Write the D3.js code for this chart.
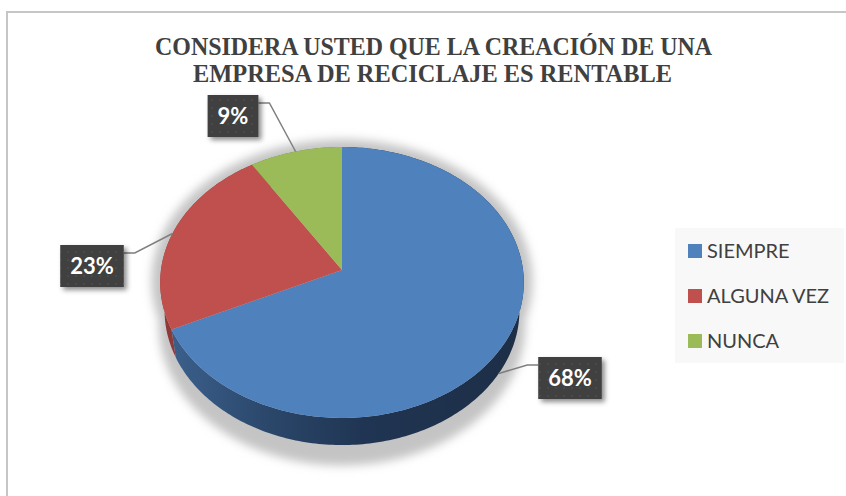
<!DOCTYPE html>
<html lang="es">
<head>
<meta charset="UTF-8">
<title>Creación de una empresa de reciclaje</title>
<style>
    body { margin: 0; background: #fff; }
    svg { display: block; }
    .title { font-family: "Liberation Serif", "Times New Roman", serif; font-weight: bold; font-size: 26px; fill: #404040; }
    .lbl { font-family: Lato, "Open Sans", sans-serif; font-weight: bold; font-size: 22px; fill: #fff; }
    .legend text { font-family: Lato, "Open Sans", sans-serif; font-size: 20px; fill: #404040; }
</style>
</head>
<body>
<svg id="chart" width="846" height="496"></svg>
<script src="https://d3js.org/d3.v7.min.js"></script>
<script>
    // data
    const categories = ["SIEMPRE", "ALGUNA VEZ", "NUNCA"];
    const values = [68, 23, 9];
    const labels = ["68%", "23%", "9%"];
    const titleLines = ["CONSIDERA USTED QUE LA CREACIÓN DE UNA", "EMPRESA DE RECICLAJE ES RENTABLE"];

    const colors = ["#4f81bd", "#c0504d", "#9bbb59"];
    const wallColors = ["url(#blueWall)", "#8e3a38", "#71893f"];

    const svg = d3.select("#chart");

    // outer border (only top and left visible in the crop)
    svg.append("path")
        .attr("d", "M7,496 V12 H846")
        .attr("fill", "none")
        .attr("stroke", "#c6c6c6")
        .attr("stroke-width", 2);

    // title
    const titleX = [155, 193], titleY = [55, 82], titleW = [557, 479];
    svg.selectAll(".title").data(titleLines).join("text")
        .attr("class", "title")
        .attr("x", (d, i) => titleX[i])
        .attr("y", (d, i) => titleY[i])
        .attr("textLength", (d, i) => titleW[i])
        .attr("lengthAdjust", "spacingAndGlyphs")
        .text(d => d);

    const defs = svg.append("defs");
    const grad = defs.append("linearGradient")
        .attr("id", "blueWall")
        .attr("gradientUnits", "userSpaceOnUse")
        .attr("x1", 165).attr("x2", 525).attr("y1", 0).attr("y2", 0);
    [[0, "#3c618e"], [0.3, "#2a4669"], [0.55, "#203553"], [1, "#1d2e46"]].forEach(s =>
        grad.append("stop").attr("offset", s[0]).attr("stop-color", s[1]));

    defs.append("filter").attr("id", "blur")
        .attr("x", "-20%").attr("y", "-20%").attr("width", "140%").attr("height", "140%")
        .append("feGaussianBlur").attr("stdDeviation", 5);

    defs.append("filter").attr("id", "boxShadow")
        .attr("x", "-30%").attr("y", "-30%").attr("width", "160%").attr("height", "160%")
        .append("feDropShadow")
        .attr("dx", 3).attr("dy", 3).attr("stdDeviation", 2.5)
        .attr("flood-color", "#000").attr("flood-opacity", 0.45);

    const pat = defs.append("pattern").attr("id", "dots")
        .attr("patternUnits", "userSpaceOnUse").attr("width", 8).attr("height", 8);
    pat.append("rect").attr("width", 8).attr("height", 8).attr("fill", "#3f3f3f");
    pat.append("circle").attr("cx", 4).attr("cy", 4).attr("r", 1.1).attr("fill", "#4c4c4c");

    // perspective projection of the 3D pie
    const cx = 342, cy = 270, k = 1316, D = 7.27;
    const sinT = 0.742, cosT = 0.670, depth = 0.238;

    function project(phi, dz, r = 1) {
        const X = r * Math.sin(phi);
        const s = -r * Math.cos(phi);
        const yc = s * sinT + dz * cosT;
        const z = D - s * cosT + dz * sinT;
        return [cx + X * k / z, cy + yc * k / z];
    }

    const pie = d3.pie().sort(null).startAngle(0).endAngle(2 * Math.PI);
    const arcs = pie(values);
    const line = d3.line();
    const step = Math.PI / 180;

    function arcPts(a0, a1, dz, r) {
        const n = Math.max(2, Math.ceil((a1 - a0) / step));
        return d3.range(n + 1).map(i => project(a0 + (a1 - a0) * i / n, dz, r));
    }

    // shadow under the pie
    const shadowTop = arcPts(0, 2 * Math.PI, -0.02, 1.045);
    const shadowBot = arcPts(0, 2 * Math.PI, depth + 0.12, 1.045);
    svg.append("g").attr("filter", "url(#blur)")
        .selectAll("path").data([shadowTop, shadowBot]).join("path")
        .attr("d", d => line(d) + "Z")
        .attr("fill", "#c4c4c4");

    // side walls
    svg.append("g").selectAll("path").data(arcs).join("path")
        .attr("d", d => {
            const top = arcPts(d.startAngle, d.endAngle, 0, 1);
            const bot = arcPts(d.startAngle, d.endAngle, depth, 1).reverse();
            return line(top.concat(bot)) + "Z";
        })
        .attr("fill", (d, i) => wallColors[i]);

    // top faces
    svg.append("g").selectAll("path").data(arcs).join("path")
        .attr("d", d => line([[cx, cy]].concat(arcPts(d.startAngle, d.endAngle, 0, 1))) + "Z")
        .attr("fill", (d, i) => colors[i]);

    // data labels
    const boxCenter = [[570, 378], [92, 266], [233, 116]];
    const boxH = 42, padX = 10;

    arcs.forEach((d, i) => {
        const mid = (d.startAngle + d.endAngle) / 2;
        const front = -Math.cos(mid) > 0;
        const anchor = project(mid, front ? depth : 0, 1);

        const g = svg.append("g");
        const t = g.append("text")
            .attr("class", "lbl")
            .attr("x", boxCenter[i][0])
            .attr("y", boxCenter[i][1] + 8)
            .attr("text-anchor", "middle")
            .text(labels[i]);
        const w = t.node().getComputedTextLength() + padX * 2;
        const bx = boxCenter[i][0] - w / 2, by = boxCenter[i][1] - boxH / 2;

        const toRight = anchor[0] > boxCenter[i][0];
        const ex = toRight ? bx + w : bx;
        const ey = by + 8;
        const elbow = [ex + (toRight ? 11 : -11), ey];
        svg.insert("path", "g.lblbox")
            .attr("d", line([anchor, elbow, [ex, ey]]))
            .attr("fill", "none")
            .attr("stroke", "#7f7f7f")
            .attr("stroke-width", 1.5);

        g.attr("class", "lblbox");
        g.insert("rect", "text")
            .attr("x", bx).attr("y", by)
            .attr("width", w).attr("height", boxH)
            .attr("fill", "url(#dots)")
            .attr("filter", "url(#boxShadow)");
    });
    svg.selectAll("g.lblbox").raise();

    // legend
    const legend = svg.append("g").attr("class", "legend");
    legend.append("rect")
        .attr("x", 675).attr("y", 228).attr("width", 169).attr("height", 135)
        .attr("fill", "#f8f8f8");
    const ly = d3.scalePoint().domain(categories).range([251, 341]);
    const item = legend.selectAll("g.item").data(categories).join("g")
        .attr("class", "item")
        .attr("transform", d => `translate(688,${ly(d)})`);
    item.append("rect")
        .attr("y", -7).attr("width", 14).attr("height", 14)
        .attr("fill", (d, i) => colors[i]);
    item.append("text")
        .attr("x", 19).attr("y", 7)
        .text(d => d);
</script>
</body>
</html>
